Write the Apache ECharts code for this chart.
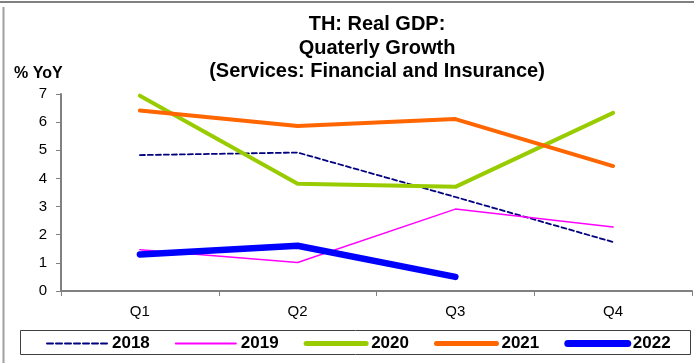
<!DOCTYPE html>
<html><head><meta charset="utf-8">
<script src="https://cdn.jsdelivr.net/npm/echarts@6/dist/echarts.min.js"></script>
<style>html,body{margin:0;padding:0;background:#fff}#c{width:694px;height:363px}</style>
</head><body><div id="c"></div>
<script>
const categories = ['Q1', 'Q2', 'Q3', 'Q4'];
const s2018 = [4.83, 4.92, 3.34, 1.74];
const s2019 = [1.47, 1.01, 2.91, 2.27];
const s2020 = [6.94, 3.81, 3.70, 6.33];
const s2021 = [6.41, 5.86, 6.11, 4.44];
const s2022 = [1.30, 1.61, 0.50, null];
const yTicks = [0, 1, 2, 3, 4, 5, 6, 7];

const FONT = '"Liberation Sans", Arial, sans-serif';
const chart = echarts.init(document.getElementById('c'));
function ln(name, data, color, width, type) {
  return {
    name, type: 'line', data, symbol: 'none', connectNulls: false,
    lineStyle: { color, width, type: type || 'solid', cap: 'round', join: 'round' },
    itemStyle: { color }, emphasis: { disabled: true }, animation: false
  };
}
chart.setOption({
  animation: false,
  title: {
    text: 'TH: Real GDP:\nQuaterly Growth\n(Services: Financial and Insurance)',
    left: 377, textAlign: 'center', top: 13, padding: 0,
    textStyle: { fontFamily: FONT, fontSize: 20, fontWeight: 'bold', color: '#000', lineHeight: 23.5 }
  },
  graphic: [
    { type: 'line', shape: { x1: 0, y1: 2, x2: 694, y2: 2 }, style: { stroke: '#808080', lineWidth: 2 } },
    { type: 'line', shape: { x1: 3.5, y1: 7, x2: 3.5, y2: 363 }, style: { stroke: '#a0a0a0', lineWidth: 2 } },
    { type: 'rect', shape: { x: 20.5, y: 330.5, width: 670, height: 24 }, style: { fill: 'none', stroke: '#404040', lineWidth: 1 } },
    { type: 'text', left: 14, top: 66, style: { text: '% YoY', font: 'bold 16px ' + FONT, fill: '#000' } }
  ],
  legend: {
    left: 46, top: 335, itemWidth: 60, itemHeight: 14, itemGap: 25, padding: 0,
    itemStyle: { opacity: 0 },
    textStyle: { fontFamily: FONT, fontSize: 17, fontWeight: 'bold', color: '#000' },
    data: [
      { name: '2018', lineStyle: { width: 2, type: [6, 3] } },
      { name: '2019', lineStyle: { width: 2 } },
      { name: '2020', lineStyle: { width: 5 } },
      { name: '2021', lineStyle: { width: 5 } },
      { name: '2022', lineStyle: { width: 7 } }
    ]
  },
  grid: { left: 61, right: 2, top: 94, bottom: 72, containLabel: false },
  xAxis: {
    type: 'category', data: categories, boundaryGap: true,
    axisLine: { lineStyle: { color: '#808080', width: 2 } },
    axisTick: { show: true, length: 5, inside: false, alignWithLabel: false, lineStyle: { color: '#808080' } },
    axisLabel: { fontFamily: FONT, fontSize: 15, color: '#000', margin: 13 },
    splitLine: { show: false }
  },
  yAxis: {
    type: 'value', min: 0, max: 7, interval: 1,
    axisLine: { show: true, lineStyle: { color: '#808080', width: 2 } },
    axisTick: { show: true, length: 5, lineStyle: { color: '#808080' } },
    axisLabel: { fontFamily: FONT, fontSize: 15, color: '#000', margin: 14,
      formatter: v => yTicks.includes(v) ? String(v) : '' },
    splitLine: { show: false }
  },
  series: [
    ln('2018', s2018, '#000080', 1.8, [5, 3]),
    ln('2019', s2019, '#FF00FF', 1.5),
    ln('2020', s2020, '#99CC00', 4),
    ln('2021', s2021, '#FF6600', 4),
    ln('2022', s2022, '#0000FF', 6.5)
  ]
});
</script></body></html>
